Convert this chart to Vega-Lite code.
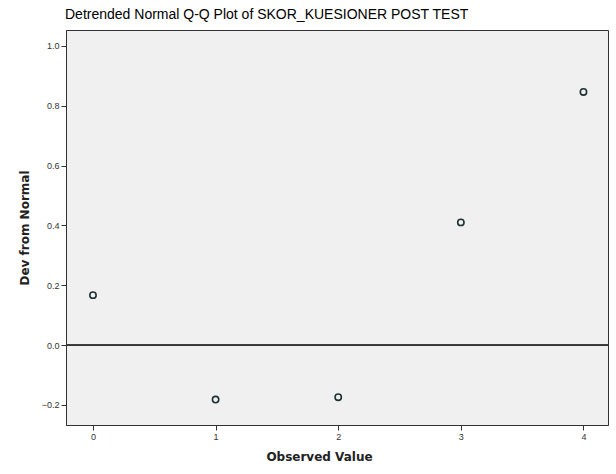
{
  "$schema": "https://vega.github.io/schema/vega-lite/v6.json",
  "width": 542,
  "height": 395,
  "autosize": {"type": "none"},
  "padding": {"left": 66, "top": 30, "right": 8, "bottom": 49},
  "background": "white",
  "title": {
    "text": "Detrended Normal Q-Q Plot of SKOR_KUESIONER POST TEST",
    "anchor": "start",
    "frame": "group",
    "dx": -1,
    "offset": 8,
    "font": "Liberation Sans",
    "fontSize": 14,
    "fontWeight": 500,
    "color": "#000000"
  },
  "config": {
    "view": {"fill": "#f0f0f0", "stroke": "#333333", "strokeWidth": 1},
    "axis": {
      "labelFont": "Liberation Sans",
      "labelFontSize": 9,
      "labelColor": "#333333",
      "tickColor": "#333333",
      "domainColor": "#333333",
      "tickSize": 5,
      "grid": false,
      "titleFont": "DejaVu Sans",
      "titleFontSize": 12,
      "titleFontWeight": "bold",
      "titleColor": "#222222"
    }
  },
  "data": {
    "values": [
      {"observed": 0, "dev": 0.167},
      {"observed": 1, "dev": -0.182},
      {"observed": 2, "dev": -0.174},
      {"observed": 3, "dev": 0.41},
      {"observed": 4, "dev": 0.846}
    ]
  },
  "layer": [
    {
      "mark": {"type": "rule", "color": "#333333", "strokeWidth": 1},
      "encoding": {"y": {"datum": 0, "type": "quantitative"}}
    },
    {
      "mark": {"type": "point", "shape": "circle", "filled": false, "color": "#1e3232", "strokeWidth": 1.6, "size": 40, "opacity": 1},
      "encoding": {
        "x": {
          "field": "observed",
          "type": "quantitative",
          "scale": {"domain": [-0.22, 4.2], "nice": false, "zero": false},
          "axis": {"title": "Observed Value", "values": [0, 1, 2, 3, 4], "format": "d", "labelPadding": 2, "titlePadding": 10, "titleX": 253}
        },
        "y": {
          "field": "dev",
          "type": "quantitative",
          "scale": {"domain": [-0.267, 1.053], "nice": false, "zero": false},
          "axis": {"title": "Dev from Normal", "values": [-0.2, 0, 0.2, 0.4, 0.6, 0.8, 1.0], "format": ".1f", "labelPadding": 2, "titlePadding": 10}
        }
      }
    }
  ]
}
